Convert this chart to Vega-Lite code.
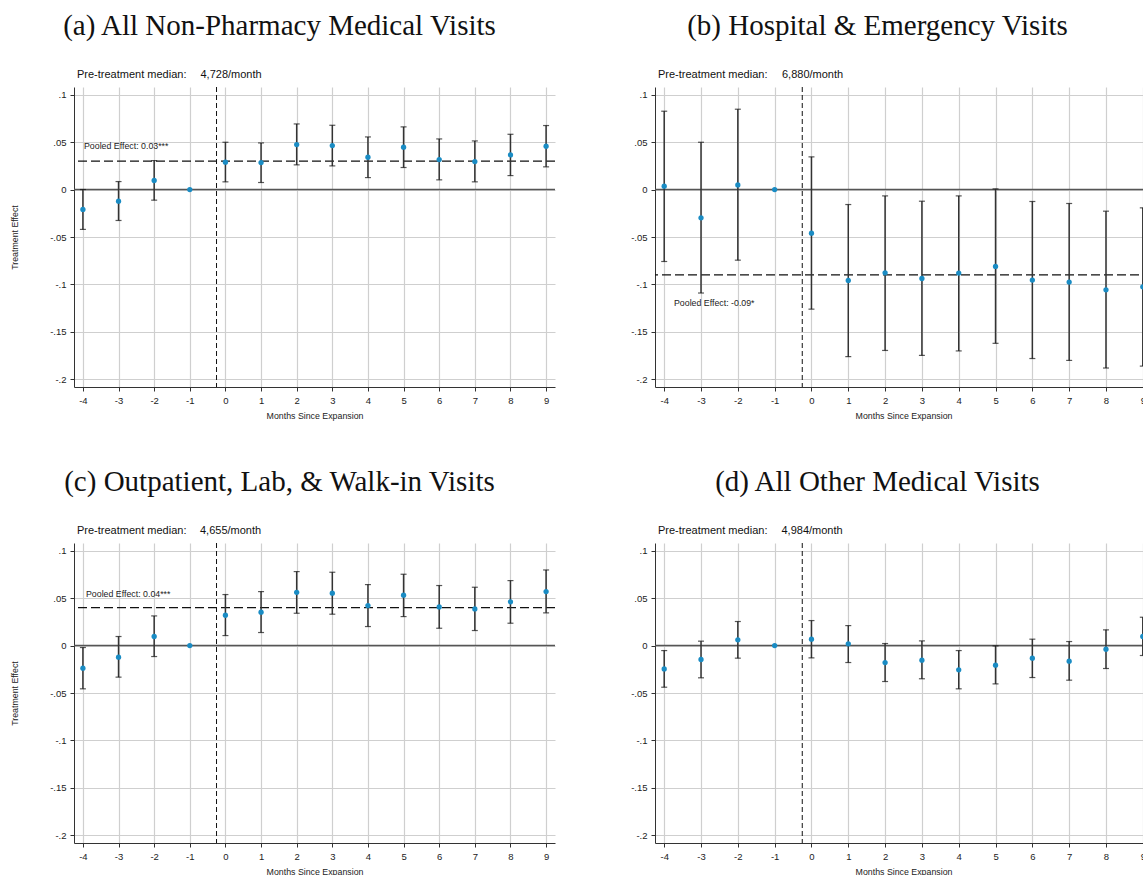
{
  "$schema": "https://vega.github.io/schema/vega-lite/v6.json",
  "padding": {"left": 10, "top": 12, "right": 0, "bottom": 0},
  "background": "white",
  "datasets": {
    "est": [
      {"panel": "a", "month": -4, "coef": -0.021, "lo": -0.042, "hi": 0.0},
      {"panel": "a", "month": -3, "coef": -0.0123, "lo": -0.0326, "hi": 0.0084},
      {"panel": "a", "month": -2, "coef": 0.0095, "lo": -0.0112, "hi": 0.0305},
      {"panel": "a", "month": -1, "coef": 0, "lo": null, "hi": null},
      {"panel": "a", "month": 0, "coef": 0.0288, "lo": 0.0081, "hi": 0.0498},
      {"panel": "a", "month": 1, "coef": 0.0284, "lo": 0.0074, "hi": 0.0491},
      {"panel": "a", "month": 2, "coef": 0.0474, "lo": 0.026, "hi": 0.0691},
      {"panel": "a", "month": 3, "coef": 0.0463, "lo": 0.0249, "hi": 0.0677},
      {"panel": "a", "month": 4, "coef": 0.034, "lo": 0.0126, "hi": 0.0554},
      {"panel": "a", "month": 5, "coef": 0.0446, "lo": 0.0232, "hi": 0.066},
      {"panel": "a", "month": 6, "coef": 0.0316, "lo": 0.0102, "hi": 0.0533},
      {"panel": "a", "month": 7, "coef": 0.0295, "lo": 0.0081, "hi": 0.0512},
      {"panel": "a", "month": 8, "coef": 0.0365, "lo": 0.0147, "hi": 0.0582},
      {"panel": "a", "month": 9, "coef": 0.0456, "lo": 0.0239, "hi": 0.0674},
      {"panel": "b", "month": -4, "coef": 0.0035, "lo": -0.0758, "hi": 0.0825},
      {"panel": "b", "month": -3, "coef": -0.0298, "lo": -0.109, "hi": 0.0498},
      {"panel": "b", "month": -2, "coef": 0.0049, "lo": -0.0744, "hi": 0.0846},
      {"panel": "b", "month": -1, "coef": 0, "lo": null, "hi": null},
      {"panel": "b", "month": 0, "coef": -0.046, "lo": -0.126, "hi": 0.0344},
      {"panel": "b", "month": 1, "coef": -0.0958, "lo": -0.176, "hi": -0.0158},
      {"panel": "b", "month": 2, "coef": -0.0877, "lo": -0.1695, "hi": -0.0067},
      {"panel": "b", "month": 3, "coef": -0.0937, "lo": -0.1747, "hi": -0.0123},
      {"panel": "b", "month": 4, "coef": -0.088, "lo": -0.17, "hi": -0.0067},
      {"panel": "b", "month": 5, "coef": -0.081, "lo": -0.162, "hi": 0.0007},
      {"panel": "b", "month": 6, "coef": -0.0954, "lo": -0.178, "hi": -0.0126},
      {"panel": "b", "month": 7, "coef": -0.0975, "lo": -0.18, "hi": -0.0147},
      {"panel": "b", "month": 8, "coef": -0.1056, "lo": -0.188, "hi": -0.0228},
      {"panel": "b", "month": 9, "coef": -0.1025, "lo": -0.186, "hi": -0.0193},
      {"panel": "c", "month": -4, "coef": -0.0239, "lo": -0.0456, "hi": -0.0021},
      {"panel": "c", "month": -3, "coef": -0.0123, "lo": -0.0333, "hi": 0.0095},
      {"panel": "c", "month": -2, "coef": 0.0095, "lo": -0.0116, "hi": 0.0312},
      {"panel": "c", "month": -1, "coef": 0, "lo": null, "hi": null},
      {"panel": "c", "month": 0, "coef": 0.0319, "lo": 0.0105, "hi": 0.0537},
      {"panel": "c", "month": 1, "coef": 0.0351, "lo": 0.0137, "hi": 0.0568},
      {"panel": "c", "month": 2, "coef": 0.0561, "lo": 0.034, "hi": 0.0779},
      {"panel": "c", "month": 3, "coef": 0.0551, "lo": 0.033, "hi": 0.0772},
      {"panel": "c", "month": 4, "coef": 0.0421, "lo": 0.02, "hi": 0.0642},
      {"panel": "c", "month": 5, "coef": 0.053, "lo": 0.0305, "hi": 0.0751},
      {"panel": "c", "month": 6, "coef": 0.0407, "lo": 0.0182, "hi": 0.0632},
      {"panel": "c", "month": 7, "coef": 0.0386, "lo": 0.0158, "hi": 0.0614},
      {"panel": "c", "month": 8, "coef": 0.046, "lo": 0.0235, "hi": 0.0684},
      {"panel": "c", "month": 9, "coef": 0.0568, "lo": 0.0344, "hi": 0.0796},
      {"panel": "d", "month": -4, "coef": -0.0246, "lo": -0.0439, "hi": -0.0053},
      {"panel": "d", "month": -3, "coef": -0.0147, "lo": -0.034, "hi": 0.0046},
      {"panel": "d", "month": -2, "coef": 0.006, "lo": -0.0133, "hi": 0.0253},
      {"panel": "d", "month": -1, "coef": 0, "lo": null, "hi": null},
      {"panel": "d", "month": 0, "coef": 0.0067, "lo": -0.013, "hi": 0.0263},
      {"panel": "d", "month": 1, "coef": 0.0018, "lo": -0.0179, "hi": 0.021},
      {"panel": "d", "month": 2, "coef": -0.0179, "lo": -0.0379, "hi": 0.0021},
      {"panel": "d", "month": 3, "coef": -0.0154, "lo": -0.035, "hi": 0.0049},
      {"panel": "d", "month": 4, "coef": -0.0256, "lo": -0.0456, "hi": -0.0053},
      {"panel": "d", "month": 5, "coef": -0.0207, "lo": -0.0404, "hi": -0.0004},
      {"panel": "d", "month": 6, "coef": -0.0133, "lo": -0.0337, "hi": 0.0067},
      {"panel": "d", "month": 7, "coef": -0.0165, "lo": -0.0365, "hi": 0.0042},
      {"panel": "d", "month": 8, "coef": -0.0039, "lo": -0.0242, "hi": 0.0165},
      {"panel": "d", "month": 9, "coef": 0.0095, "lo": -0.0105, "hi": 0.0298}
    ],
    "info": [
      {"panel": "a", "median": "4,728/month", "pooled": 0.03, "pooledLabel": "Pooled Effect: 0.03***"},
      {"panel": "b", "median": "6,880/month", "pooled": -0.09, "pooledLabel": "Pooled Effect: -0.09*"},
      {"panel": "c", "median": "4,655/month", "pooled": 0.04, "pooledLabel": "Pooled Effect: 0.04***"},
      {"panel": "d", "median": "4,984/month", "pooled": null, "pooledLabel": ""}
    ]
  },
  "columns": 2,
  "spacing": {"row": 156, "column": 100},
  "bounds": "flush",
  "align": "each",
  "concat": [
    {
      "width": 481, "height": 300,
      "title": {"text": "(a) All Non-Pharmacy Medical Visits", "dx": -35},
      "layer": [
        {"data": {"name": "est"}, "transform": [{"filter": "datum.panel == 'a'"}],
         "mark": {"type": "circle", "opacity": 0},
         "encoding": {
           "x": {"field": "month", "type": "quantitative", "scale": {"domain": [-4.25, 9.25], "nice": false, "zero": false},
                 "axis": {"values": [-4, -3, -2, -1, 0, 1, 2, 3, 4, 5, 6, 7, 8, 9], "tickCount": 14, "labelExpr": "replace(format(datum.value, 'd'), '\u2212', '-')", "title": "Months Since Expansion", "grid": true, "labelOverlap": false, "labelSeparation": 0}},
           "y": {"field": "coef", "type": "quantitative", "scale": {"domain": [-0.208, 0.108], "nice": false, "zero": false},
                 "axis": {"values": [-0.2, -0.15, -0.1, -0.05, 0, 0.05, 0.1], "labelOverlap": false, "labelExpr": "datum.value == 0 ? '0' : replace(replace(format(datum.value, '.2~f'), '0.', '.'), '\u2212', '-')", "title": "Treatment Effect", "grid": true, "titleX": -60, "titleY": 150, "titleAngle": -90, "titleBaseline": "middle", "titleAlign": "center"}}}},
        {"data": {"name": "info"}, "transform": [{"filter": "datum.panel == 'a'"}],
         "mark": {"type": "rule", "color": "#555555", "strokeWidth": 1.6},
         "encoding": {"y": {"datum": 0, "type": "quantitative"}}},
        {"data": {"name": "info"}, "transform": [{"filter": "datum.panel == 'a'"}],
         "mark": {"type": "rule", "color": "#111111", "strokeWidth": 1, "strokeDash": [5, 3]},
         "encoding": {"x": {"datum": -0.25, "type": "quantitative"}}},
        {"data": {"name": "info"}, "transform": [{"filter": "datum.panel == 'a'"}],
         "mark": {"type": "rule", "color": "#111111", "strokeWidth": 1.3, "strokeDash": [9, 4]},
         "encoding": {"y": {"field": "pooled", "type": "quantitative"}}},
        {"data": {"name": "est"}, "transform": [{"filter": "datum.panel == 'a' && isValid(datum.lo)"}],
         "mark": {"type": "rule", "color": "#333333", "strokeWidth": 1.5},
         "encoding": {
           "x": {"field": "month", "type": "quantitative"},
           "y": {"field": "lo", "type": "quantitative"},
           "y2": {"field": "hi"}}},
        {"data": {"name": "est"}, "transform": [{"filter": "datum.panel == 'a' && isValid(datum.lo)"}],
         "mark": {"type": "tick", "orient": "horizontal", "color": "#111111", "size": 6, "thickness": 1.2},
         "encoding": {
           "x": {"field": "month", "type": "quantitative"},
           "y": {"field": "lo", "type": "quantitative"}}},
        {"data": {"name": "est"}, "transform": [{"filter": "datum.panel == 'a' && isValid(datum.hi)"}],
         "mark": {"type": "tick", "orient": "horizontal", "color": "#111111", "size": 6, "thickness": 1.2},
         "encoding": {
           "x": {"field": "month", "type": "quantitative"},
           "y": {"field": "hi", "type": "quantitative"}}},
        {"data": {"name": "est"}, "transform": [{"filter": "datum.panel == 'a'"}],
         "mark": {"type": "circle", "color": "#1a8cc4", "size": 28, "opacity": 1},
         "encoding": {
           "x": {"field": "month", "type": "quantitative"},
           "y": {"field": "coef", "type": "quantitative"}}},
        {"data": {"name": "info"}, "transform": [{"filter": "datum.panel == 'a'"}],
         "mark": {"type": "text", "align": "left", "baseline": "middle", "dx": 10, "dy": -15, "fontSize": 8.8, "color": "#222222"},
         "encoding": {
           "x": {"datum": -4.25, "type": "quantitative"},
           "y": {"field": "pooled", "type": "quantitative"},
           "text": {"field": "pooledLabel"}}},
        {"data": {"name": "info"}, "transform": [{"filter": "datum.panel == 'a'"}],
         "mark": {"type": "text", "align": "left", "baseline": "middle", "dx": 3, "dy": -12, "fontSize": 11, "color": "#111111", "text": "Pre-treatment median:"},
         "encoding": {
           "x": {"datum": -4.25, "type": "quantitative"},
           "y": {"datum": 0.108, "type": "quantitative"}}},
        {"data": {"name": "info"}, "transform": [{"filter": "datum.panel == 'a'"}],
         "mark": {"type": "text", "align": "left", "baseline": "middle", "dx": 126.5, "dy": -12, "fontSize": 11, "color": "#111111"},
         "encoding": {
           "x": {"datum": -4.25, "type": "quantitative"},
           "y": {"datum": 0.108, "type": "quantitative"},
           "text": {"field": "median"}}}
      ]
    },
    {
      "width": 497, "height": 300,
      "title": {"text": "(b) Hospital & Emergency Visits", "dx": -26},
      "layer": [
        {"data": {"name": "est"}, "transform": [{"filter": "datum.panel == 'b'"}],
         "mark": {"type": "circle", "opacity": 0},
         "encoding": {
           "x": {"field": "month", "type": "quantitative", "scale": {"domain": [-4.25, 9.25], "nice": false, "zero": false},
                 "axis": {"values": [-4, -3, -2, -1, 0, 1, 2, 3, 4, 5, 6, 7, 8, 9], "tickCount": 14, "labelExpr": "replace(format(datum.value, 'd'), '\u2212', '-')", "title": "Months Since Expansion", "grid": true, "labelOverlap": false, "labelSeparation": 0}},
           "y": {"field": "coef", "type": "quantitative", "scale": {"domain": [-0.208, 0.108], "nice": false, "zero": false},
                 "axis": {"values": [-0.2, -0.15, -0.1, -0.05, 0, 0.05, 0.1], "labelOverlap": false, "labelExpr": "datum.value == 0 ? '0' : replace(replace(format(datum.value, '.2~f'), '0.', '.'), '\u2212', '-')", "title": null, "grid": true}}}},
        {"data": {"name": "info"}, "transform": [{"filter": "datum.panel == 'b'"}],
         "mark": {"type": "rule", "color": "#555555", "strokeWidth": 1.6},
         "encoding": {"y": {"datum": 0, "type": "quantitative"}}},
        {"data": {"name": "info"}, "transform": [{"filter": "datum.panel == 'b'"}],
         "mark": {"type": "rule", "color": "#111111", "strokeWidth": 1, "strokeDash": [5, 3]},
         "encoding": {"x": {"datum": -0.25, "type": "quantitative"}}},
        {"data": {"name": "info"}, "transform": [{"filter": "datum.panel == 'b'"}],
         "mark": {"type": "rule", "color": "#111111", "strokeWidth": 1.3, "strokeDash": [9, 4]},
         "encoding": {"y": {"field": "pooled", "type": "quantitative"}}},
        {"data": {"name": "est"}, "transform": [{"filter": "datum.panel == 'b' && isValid(datum.lo)"}],
         "mark": {"type": "rule", "color": "#333333", "strokeWidth": 1.5},
         "encoding": {
           "x": {"field": "month", "type": "quantitative"},
           "y": {"field": "lo", "type": "quantitative"},
           "y2": {"field": "hi"}}},
        {"data": {"name": "est"}, "transform": [{"filter": "datum.panel == 'b' && isValid(datum.lo)"}],
         "mark": {"type": "tick", "orient": "horizontal", "color": "#111111", "size": 6, "thickness": 1.2},
         "encoding": {
           "x": {"field": "month", "type": "quantitative"},
           "y": {"field": "lo", "type": "quantitative"}}},
        {"data": {"name": "est"}, "transform": [{"filter": "datum.panel == 'b' && isValid(datum.hi)"}],
         "mark": {"type": "tick", "orient": "horizontal", "color": "#111111", "size": 6, "thickness": 1.2},
         "encoding": {
           "x": {"field": "month", "type": "quantitative"},
           "y": {"field": "hi", "type": "quantitative"}}},
        {"data": {"name": "est"}, "transform": [{"filter": "datum.panel == 'b'"}],
         "mark": {"type": "circle", "color": "#1a8cc4", "size": 28, "opacity": 1},
         "encoding": {
           "x": {"field": "month", "type": "quantitative"},
           "y": {"field": "coef", "type": "quantitative"}}},
        {"data": {"name": "info"}, "transform": [{"filter": "datum.panel == 'b'"}],
         "mark": {"type": "text", "align": "left", "baseline": "middle", "dx": 19, "dy": 28, "fontSize": 8.8, "color": "#222222"},
         "encoding": {
           "x": {"datum": -4.25, "type": "quantitative"},
           "y": {"field": "pooled", "type": "quantitative"},
           "text": {"field": "pooledLabel"}}},
        {"data": {"name": "info"}, "transform": [{"filter": "datum.panel == 'b'"}],
         "mark": {"type": "text", "align": "left", "baseline": "middle", "dx": 3, "dy": -12, "fontSize": 11, "color": "#111111", "text": "Pre-treatment median:"},
         "encoding": {
           "x": {"datum": -4.25, "type": "quantitative"},
           "y": {"datum": 0.108, "type": "quantitative"}}},
        {"data": {"name": "info"}, "transform": [{"filter": "datum.panel == 'b'"}],
         "mark": {"type": "text", "align": "left", "baseline": "middle", "dx": 127, "dy": -12, "fontSize": 11, "color": "#111111"},
         "encoding": {
           "x": {"datum": -4.25, "type": "quantitative"},
           "y": {"datum": 0.108, "type": "quantitative"},
           "text": {"field": "median"}}}
      ]
    },
    {
      "width": 481, "height": 300,
      "title": {"text": "(c) Outpatient, Lab, & Walk-in Visits", "dx": -35},
      "layer": [
        {"data": {"name": "est"}, "transform": [{"filter": "datum.panel == 'c'"}],
         "mark": {"type": "circle", "opacity": 0},
         "encoding": {
           "x": {"field": "month", "type": "quantitative", "scale": {"domain": [-4.25, 9.25], "nice": false, "zero": false},
                 "axis": {"values": [-4, -3, -2, -1, 0, 1, 2, 3, 4, 5, 6, 7, 8, 9], "tickCount": 14, "labelExpr": "replace(format(datum.value, 'd'), '\u2212', '-')", "title": "Months Since Expansion", "grid": true, "labelOverlap": false, "labelSeparation": 0}},
           "y": {"field": "coef", "type": "quantitative", "scale": {"domain": [-0.208, 0.108], "nice": false, "zero": false},
                 "axis": {"values": [-0.2, -0.15, -0.1, -0.05, 0, 0.05, 0.1], "labelOverlap": false, "labelExpr": "datum.value == 0 ? '0' : replace(replace(format(datum.value, '.2~f'), '0.', '.'), '\u2212', '-')", "title": "Treatment Effect", "grid": true, "titleX": -60, "titleY": 150, "titleAngle": -90, "titleBaseline": "middle", "titleAlign": "center"}}}},
        {"data": {"name": "info"}, "transform": [{"filter": "datum.panel == 'c'"}],
         "mark": {"type": "rule", "color": "#555555", "strokeWidth": 1.6},
         "encoding": {"y": {"datum": 0, "type": "quantitative"}}},
        {"data": {"name": "info"}, "transform": [{"filter": "datum.panel == 'c'"}],
         "mark": {"type": "rule", "color": "#111111", "strokeWidth": 1, "strokeDash": [5, 3]},
         "encoding": {"x": {"datum": -0.25, "type": "quantitative"}}},
        {"data": {"name": "info"}, "transform": [{"filter": "datum.panel == 'c'"}],
         "mark": {"type": "rule", "color": "#111111", "strokeWidth": 1.3, "strokeDash": [9, 4]},
         "encoding": {"y": {"field": "pooled", "type": "quantitative"}}},
        {"data": {"name": "est"}, "transform": [{"filter": "datum.panel == 'c' && isValid(datum.lo)"}],
         "mark": {"type": "rule", "color": "#333333", "strokeWidth": 1.5},
         "encoding": {
           "x": {"field": "month", "type": "quantitative"},
           "y": {"field": "lo", "type": "quantitative"},
           "y2": {"field": "hi"}}},
        {"data": {"name": "est"}, "transform": [{"filter": "datum.panel == 'c' && isValid(datum.lo)"}],
         "mark": {"type": "tick", "orient": "horizontal", "color": "#111111", "size": 6, "thickness": 1.2},
         "encoding": {
           "x": {"field": "month", "type": "quantitative"},
           "y": {"field": "lo", "type": "quantitative"}}},
        {"data": {"name": "est"}, "transform": [{"filter": "datum.panel == 'c' && isValid(datum.hi)"}],
         "mark": {"type": "tick", "orient": "horizontal", "color": "#111111", "size": 6, "thickness": 1.2},
         "encoding": {
           "x": {"field": "month", "type": "quantitative"},
           "y": {"field": "hi", "type": "quantitative"}}},
        {"data": {"name": "est"}, "transform": [{"filter": "datum.panel == 'c'"}],
         "mark": {"type": "circle", "color": "#1a8cc4", "size": 28, "opacity": 1},
         "encoding": {
           "x": {"field": "month", "type": "quantitative"},
           "y": {"field": "coef", "type": "quantitative"}}},
        {"data": {"name": "info"}, "transform": [{"filter": "datum.panel == 'c'"}],
         "mark": {"type": "text", "align": "left", "baseline": "middle", "dx": 12, "dy": -14, "fontSize": 8.8, "color": "#222222"},
         "encoding": {
           "x": {"datum": -4.25, "type": "quantitative"},
           "y": {"field": "pooled", "type": "quantitative"},
           "text": {"field": "pooledLabel"}}},
        {"data": {"name": "info"}, "transform": [{"filter": "datum.panel == 'c'"}],
         "mark": {"type": "text", "align": "left", "baseline": "middle", "dx": 3, "dy": -12, "fontSize": 11, "color": "#111111", "text": "Pre-treatment median:"},
         "encoding": {
           "x": {"datum": -4.25, "type": "quantitative"},
           "y": {"datum": 0.108, "type": "quantitative"}}},
        {"data": {"name": "info"}, "transform": [{"filter": "datum.panel == 'c'"}],
         "mark": {"type": "text", "align": "left", "baseline": "middle", "dx": 126, "dy": -12, "fontSize": 11, "color": "#111111"},
         "encoding": {
           "x": {"datum": -4.25, "type": "quantitative"},
           "y": {"datum": 0.108, "type": "quantitative"},
           "text": {"field": "median"}}}
      ]
    },
    {
      "width": 497, "height": 300,
      "title": {"text": "(d) All Other Medical Visits", "dx": -26},
      "layer": [
        {"data": {"name": "est"}, "transform": [{"filter": "datum.panel == 'd'"}],
         "mark": {"type": "circle", "opacity": 0},
         "encoding": {
           "x": {"field": "month", "type": "quantitative", "scale": {"domain": [-4.25, 9.25], "nice": false, "zero": false},
                 "axis": {"values": [-4, -3, -2, -1, 0, 1, 2, 3, 4, 5, 6, 7, 8, 9], "tickCount": 14, "labelExpr": "replace(format(datum.value, 'd'), '\u2212', '-')", "title": "Months Since Expansion", "grid": true, "labelOverlap": false, "labelSeparation": 0}},
           "y": {"field": "coef", "type": "quantitative", "scale": {"domain": [-0.208, 0.108], "nice": false, "zero": false},
                 "axis": {"values": [-0.2, -0.15, -0.1, -0.05, 0, 0.05, 0.1], "labelOverlap": false, "labelExpr": "datum.value == 0 ? '0' : replace(replace(format(datum.value, '.2~f'), '0.', '.'), '\u2212', '-')", "title": null, "grid": true}}}},
        {"data": {"name": "info"}, "transform": [{"filter": "datum.panel == 'd'"}],
         "mark": {"type": "rule", "color": "#555555", "strokeWidth": 1.6},
         "encoding": {"y": {"datum": 0, "type": "quantitative"}}},
        {"data": {"name": "info"}, "transform": [{"filter": "datum.panel == 'd'"}],
         "mark": {"type": "rule", "color": "#111111", "strokeWidth": 1, "strokeDash": [5, 3]},
         "encoding": {"x": {"datum": -0.25, "type": "quantitative"}}},
        {"data": {"name": "est"}, "transform": [{"filter": "datum.panel == 'd' && isValid(datum.lo)"}],
         "mark": {"type": "rule", "color": "#333333", "strokeWidth": 1.5},
         "encoding": {
           "x": {"field": "month", "type": "quantitative"},
           "y": {"field": "lo", "type": "quantitative"},
           "y2": {"field": "hi"}}},
        {"data": {"name": "est"}, "transform": [{"filter": "datum.panel == 'd' && isValid(datum.lo)"}],
         "mark": {"type": "tick", "orient": "horizontal", "color": "#111111", "size": 6, "thickness": 1.2},
         "encoding": {
           "x": {"field": "month", "type": "quantitative"},
           "y": {"field": "lo", "type": "quantitative"}}},
        {"data": {"name": "est"}, "transform": [{"filter": "datum.panel == 'd' && isValid(datum.hi)"}],
         "mark": {"type": "tick", "orient": "horizontal", "color": "#111111", "size": 6, "thickness": 1.2},
         "encoding": {
           "x": {"field": "month", "type": "quantitative"},
           "y": {"field": "hi", "type": "quantitative"}}},
        {"data": {"name": "est"}, "transform": [{"filter": "datum.panel == 'd'"}],
         "mark": {"type": "circle", "color": "#1a8cc4", "size": 28, "opacity": 1},
         "encoding": {
           "x": {"field": "month", "type": "quantitative"},
           "y": {"field": "coef", "type": "quantitative"}}},
        {"data": {"name": "info"}, "transform": [{"filter": "datum.panel == 'd'"}],
         "mark": {"type": "text", "align": "left", "baseline": "middle", "dx": 3, "dy": -12, "fontSize": 11, "color": "#111111", "text": "Pre-treatment median:"},
         "encoding": {
           "x": {"datum": -4.25, "type": "quantitative"},
           "y": {"datum": 0.108, "type": "quantitative"}}},
        {"data": {"name": "info"}, "transform": [{"filter": "datum.panel == 'd'"}],
         "mark": {"type": "text", "align": "left", "baseline": "middle", "dx": 126.5, "dy": -12, "fontSize": 11, "color": "#111111"},
         "encoding": {
           "x": {"datum": -4.25, "type": "quantitative"},
           "y": {"datum": 0.108, "type": "quantitative"},
           "text": {"field": "median"}}}
      ]
    }
  ],
  "config": {
    "view": {"stroke": null},
    "font": "Liberation Sans",
    "text": {"font": "Liberation Sans"},
    "axis": {
      "domainColor": "#333333", "domainWidth": 1,
      "tickColor": "#333333", "tickWidth": 1, "tickSize": 4,
      "gridColor": "#cfcfcf", "gridWidth": 1.2,
      "labelFont": "Liberation Sans", "labelFontSize": 9.5, "labelColor": "#222222",
      "labelPadding": 4, "labelFlush": false,
      "titleFont": "Liberation Sans", "titleFontSize": 8.8, "titleFontWeight": "normal", "titleColor": "#222222",
      "titlePadding": 7
    },
    "title": {"font": "Liberation Serif", "fontSize": 29, "fontWeight": "normal", "color": "#111111", "anchor": "middle", "baseline": "alphabetic", "offset": 28}
  }
}
